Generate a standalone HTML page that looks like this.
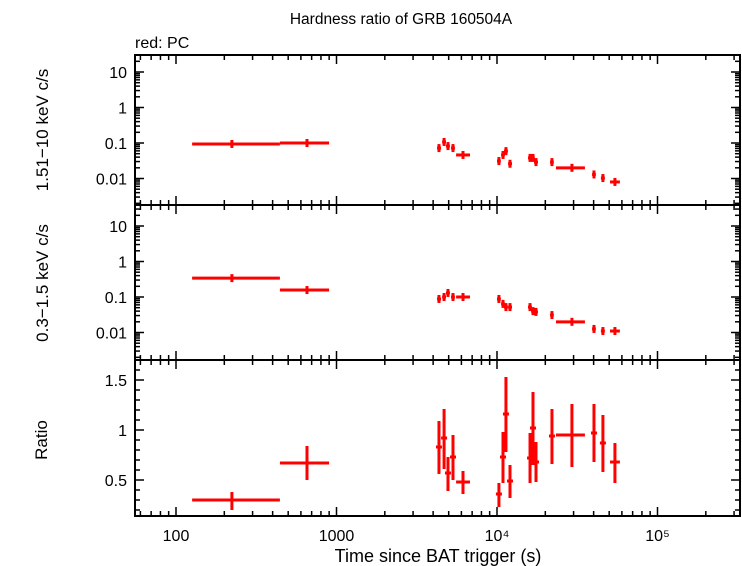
<!DOCTYPE html>
<html><head><meta charset="utf-8"><style>
body{margin:0;background:#fff}
svg{display:block;font-family:"Liberation Sans",sans-serif}
</style></head><body>
<svg id="c" width="742" height="566"></svg>
<script>
const times=[223,655,4350,4680,4950,5320,6140,10280,10900,11370,12050,16060,16760,17500,22000,29300,40200,45700,54300];
const timeLo=[126,444,4230,4550,4810,5170,5560,10000,10600,11050,11720,15600,16300,17000,21400,23300,39100,44400,50600];
const timeHi=[444,899,4480,4810,5090,5470,6790,10570,11200,11700,12400,16500,17200,18000,22600,35300,41300,47000,58300];
const hardRate=[0.094,0.1,0.072,0.107,0.082,0.072,0.046,0.031,0.046,0.059,0.026,0.038,0.038,0.029,0.029,0.020,0.013,0.0103,0.0080];
const softRate=[0.34,0.157,0.088,0.1,0.13,0.1,0.1,0.088,0.064,0.052,0.052,0.052,0.040,0.038,0.031,0.020,0.0126,0.011,0.011];
const ratio=[0.30,0.67,0.83,0.92,0.57,0.73,0.48,0.36,0.73,1.16,0.49,0.72,1.02,0.68,0.94,0.95,0.97,0.87,0.68];
const ratioLo=[0.20,0.50,0.56,0.61,0.39,0.50,0.36,0.23,0.47,0.78,0.32,0.47,0.65,0.48,0.66,0.63,0.68,0.58,0.47];
const ratioHi=[0.38,0.84,1.09,1.21,0.73,0.95,0.59,0.47,0.98,1.53,0.65,0.97,1.38,0.88,1.21,1.26,1.26,1.15,0.87];
const xTickLabels=["100","1000","10⁴","10⁵"];
const logTickLabels=["0.01","0.1","1","10"];
const ratioTickLabels=["0.5","1","1.5"];

const svg=document.getElementById('c');
const NS='http://www.w3.org/2000/svg';
const L=135,R=740;
function X(t){return 176+(Math.log10(t)-2)*160.5;}
const panels=[
 {top:55,bot:205,y:v=>143-(Math.log10(v)+1)*35.5,name:'hard'},
 {top:205,bot:360,y:v=>297-(Math.log10(v)+1)*35.5,name:'soft'},
 {top:360,bot:516,y:v=>430-(v-1)*100,name:'ratio'}];
function el(tag,attrs,parent){const e=document.createElementNS(NS,tag);for(const k in attrs)e.setAttribute(k,attrs[k]);(parent||svg).appendChild(e);return e;}
function line(x1,y1,x2,y2,col,w,p,name){const e=el('line',{x1,y1,x2,y2,stroke:col,'stroke-width':w},p);

return e;}
function text(x,y,s,anchor,size,name,extra){const e=el('text',Object.assign({x,y,'text-anchor':anchor,'font-size':size,fill:'#000'},extra||{}));e.textContent=s;

return e;}

panels.forEach((p,pi)=>{
  const g=el('g',{});
  
  
  for(let d=1;d<=5;d++){for(let m=1;m<=9;m++){const t=m*Math.pow(10,d);const x=X(t);if(x<L||x>R)continue;
    const len=m==1?9:5;
    line(x,p.top,x,p.top+len,'#000',1.5,g,'x-tick');line(x,p.bot,x,p.bot-len,'#000',1.5,g,'x-tick');}}
  if(pi<2){for(let d=-3;d<=1;d++){for(let m=1;m<=9;m++){const v=m*Math.pow(10,d);const y=p.y(v);if(y<p.top||y>p.bot)continue;
      const len=m==1?9:5;
      line(L,y,L+len,y,'#000',1.5,g,'y-tick');line(R,y,R-len,y,'#000',1.5,g,'y-tick');}}
    logTickLabels.forEach((s,i)=>{const y=p.y(Math.pow(10,i-2));text(L-8,y+6,s,'end',16,'y-tick-label');});
  } else {
    for(let v=0.2;v<=1.65;v+=0.1){const y=p.y(v);const maj=Math.abs(v*2-Math.round(v*2))<0.01;const len=maj?9:5;
      line(L,y,L+len,y,'#000',1.5,g,'y-tick');line(R,y,R-len,y,'#000',1.5,g,'y-tick');}
    ratioTickLabels.forEach((s,i)=>{const y=p.y(0.5+i*0.5);text(L-8,y+6,s,'end',16,'y-tick-label');});
  }
  const r=el('rect',{x:L,y:p.top,width:R-L,height:p.bot-p.top,fill:'none',stroke:'#000','stroke-width':2},g);
  
  
  const vals=pi==0?hardRate:pi==1?softRate:ratio;
  times.forEach((t,i)=>{
    const cx=X(t),cy=p.y(vals[i]);
    const gg=el('g',{},g);
    
    
    line(X(timeLo[i]),cy,X(timeHi[i]),cy,'#f00',3,gg,'x-error-bar');
    if(pi<2){line(cx,cy-4,cx,cy+4,'#f00',3,gg,'y-error-bar');}
    else{line(cx,p.y(ratioLo[i]),cx,p.y(ratioHi[i]),'#f00',3,gg,'y-error-bar');
      line(cx-3,cy,cx+3,cy,'#f00',3,gg,'marker');}
  });
});
[100,1000].forEach((t,i)=>text(X(t),541,xTickLabels[i],'middle',16,'x-tick-label'));
[1e4,1e5].forEach((t,i)=>text(X(t),541,xTickLabels[i+2],'middle',16,'x-tick-label'));
text(438,562,'Time since BAT trigger (s)','middle',18,'x-axis-title');
text(401,24,'Hardness ratio of GRB 160504A','middle',15.5,'chart-title');
text(135,48,'red: PC','start',16,'legend-label');
text(48,130,'1.51−10 keV c/s','middle',17,'hard-y-axis-title',{transform:'rotate(-90 48 130)'});
text(48,283,'0.3−1.5 keV c/s','middle',17,'soft-y-axis-title',{transform:'rotate(-90 48 283)'});
text(47,440,'Ratio','middle',17,'ratio-y-axis-title',{transform:'rotate(-90 47 440)'});
</script>
</body></html>
